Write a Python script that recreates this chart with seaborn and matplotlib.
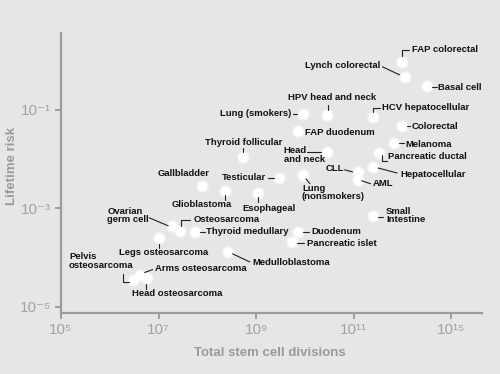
import matplotlib
matplotlib.use("Agg")
import matplotlib.pyplot as plt
import seaborn as sns
import pandas as pd
from matplotlib.transforms import IdentityTransform

# Data (log-log scatter of cancer types)
tissues = ["FAP colorectal", "Lynch colorectal", "Basal cell", "HCV hepatocellular",
           "HPV head and neck", "Colorectal", "Melanoma", "Pancreatic ductal",
           "Hepatocellular", "CLL", "AML", "Head and neck", "FAP duodenum",
           "Lung (smokers)", "Lung (nonsmokers)", "Thyroid follicular", "Testicular",
           "Gallbladder", "Glioblastoma", "Esophageal", "Ovarian germ cell",
           "Osteosarcoma", "Thyroid medullary", "Legs osteosarcoma", "Medulloblastoma",
           "Pelvis osteosarcoma", "Arms osteosarcoma", "Head osteosarcoma",
           "Small intestine", "Duodenum", "Pancreatic islet"]
divisions = [1.0e12, 1.1e12, 3.2e12, 2.5e11,
             2.8e10, 1.0e12, 6.8e11, 3.3e11,
             2.5e11, 1.2e11, 1.2e11, 2.8e10, 7.1e9,
             9.1e9, 9.1e9, 5.4e8, 3.0e9,
             7.6e7, 2.3e8, 1.1e9, 1.9e7,
             2.8e7, 5.5e7, 1.0e7, 2.6e8,
             3.0e6, 4.1e6, 5.9e6,
             2.5e11, 7.1e9, 5.4e9]
risk = [0.95, 0.47, 0.30, 0.072,
        0.080, 0.047, 0.021, 0.0135,
        0.0069, 0.0055, 0.0038, 0.014, 0.037,
        0.083, 0.0048, 0.011, 0.0042,
        0.0029, 0.0022, 0.0020, 0.00044,
        0.00035, 0.00033, 0.00025, 0.00013,
        0.000035, 0.000045, 0.000039,
        0.00071, 0.00033, 0.00021]
label_text = {"Head and neck": "Head\nand neck", "Lung (nonsmokers)": "Lung\n(nonsmokers)",
              "Ovarian germ cell": "Ovarian\ngerm cell", "Pelvis osteosarcoma": "Pelvis\nosteosarcoma",
              "Small intestine": "Small\nIntestine"}

xticks = [1e5, 1e7, 1e9, 1e11, 1e13]
xticklabels = ["10⁵", "10⁷", "10⁹", "10¹¹", "10¹⁵"]
yticks = [1e-5, 1e-3, 1e-1]
yticklabels = ["10⁻⁵", "10⁻³", "10⁻¹"]

# label placement: (dx, dy, ha, va) in pixels, y downwards; leader path offsets
layout = {
    "FAP colorectal": (10, -12, "left", "center", [(0, -6), (0, -12), (7, -12)]),
    "Lynch colorectal": (-24, -11, "right", "center", [(-22, -10), (-5, -2)]),
    "Basal cell": (11, 1, "left", "center", [(5, 1), (10, 1)]),
    "HCV hepatocellular": (9, -9, "left", "center", [(0, -5), (0, -9), (7, -9)]),
    "HPV head and neck": (5, -17, "center", "center", [(1, -10), (1, -5)]),
    "Colorectal": (9, 0, "left", "center", [(5, 0), (8, 0)]),
    "Melanoma": (11, 1, "left", "center", [(5, 0), (10, 0)]),
    "Pancreatic ductal": (9, 4, "left", "center", [(3, 2), (3, 8), (8, 8)]),
    "Hepatocellular": (27, 7, "left", "center", [(5, 1), (24, 6)]),
    "CLL": (-14, -3, "right", "center", [(-13, -2), (-5, 0)]),
    "AML": (15, 4, "left", "center", [(4, 1), (13, 4)]),
    "Head and neck": (-43, -6, "left", "top", [(-20, 0), (-6, 0)]),
    "FAP duodenum": (7, 1, "left", "center", []),
    "Lung (smokers)": (-12, 0, "right", "center", [(-10, 0), (-6, 0)]),
    "Lung (nonsmokers)": (-1, 9, "left", "top", [(3, 4), (7, 9)]),
    "Thyroid follicular": (1, -15, "center", "center", [(0, -9), (0, -5)]),
    "Testicular": (-13, 0, "right", "center", [(-11, 0), (-5, 0)]),
    "Gallbladder": (-18, -12, "center", "center", []),
    "Glioblastoma": (-23, 13, "center", "center", [(0, 4), (0, 9)]),
    "Esophageal": (-16, 15, "left", "center", [(0, 4), (0, 9)]),
    "Ovarian germ cell": (-65, -19, "left", "top", [(-23, -8), (-4, 0)]),
    "Osteosarcoma": (13, -11, "left", "center", [(1, -5), (1, -11), (10, -11)]),
    "Thyroid medullary": (11, 0, "left", "center", [(5, 0), (10, 0)]),
    "Legs osteosarcoma": (5, 15, "center", "center", [(0, 6), (0, 10)]),
    "Medulloblastoma": (25, 11, "left", "center", [(5, 2), (22, 10)]),
    "Pelvis osteosarcoma": (-64, -28, "left", "top", [(-10, -6), (-10, 2), (-4, 2)]),
    "Arms osteosarcoma": (15, -6, "left", "center", [(5, -2), (13, -5)]),
    "Head osteosarcoma": (-15, 16, "left", "center", [(-1, 6), (-1, 11)]),
    "Small intestine": (13, -9, "left", "top", [(5, 1), (10, 1)]),
    "Duodenum": (14, 0, "left", "center", [(5, 0), (11, 0)]),
    "Pancreatic islet": (15, 2, "left", "center", [(5, 1), (12, 1)]),
}

df = pd.DataFrame({"tissue": tissues, "divisions": divisions, "risk": risk})

sns.set_theme(style="ticks")
plt.rcParams["font.family"] = ["Liberation Sans Narrow", "Liberation Sans", "DejaVu Sans"]

bg = "#e6e6e6"
grey = "#9c9c9c"
fig, ax = plt.subplots(figsize=(5, 3.74), dpi=100)
fig.patch.set_facecolor(bg)
ax.set_facecolor(bg)
fig.subplots_adjust(left=0.122, right=0.964, bottom=0.163, top=0.912)

ax.set_xscale("log")
ax.set_yscale("log")
sns.scatterplot(data=df, x="divisions", y="risk", color="white", s=85, alpha=0.45,
                linewidth=0, ax=ax, zorder=2)
sns.scatterplot(data=df, x="divisions", y="risk", color="white", s=50,
                linewidth=0, ax=ax, zorder=3)
ax.set_xlim(1e5, 10 ** 13.63)
ax.set_ylim(10 ** -5.13, 10 ** 0.565)

ax.set_xticks(xticks)
ax.set_xticklabels(xticklabels)
ax.set_yticks(yticks)
ax.set_yticklabels(yticklabels)
ax.minorticks_off()
for s in ["top", "right"]:
    ax.spines[s].set_visible(False)
for s in ["left", "bottom"]:
    ax.spines[s].set_color(grey)
    ax.spines[s].set_linewidth(1.6)
ax.tick_params(colors=grey, labelcolor="#a3a3a3", labelsize=11, length=4, width=1.4, pad=3)

ax.set_xlabel("Total stem cell divisions", color="#9a9a9a", fontsize=9.5, fontweight="bold")
ax.set_ylabel("Lifetime risk", color="#9a9a9a", fontsize=9.5, fontweight="bold")
ax.xaxis.set_label_coords(0.496, -0.123)
ax.yaxis.set_label_coords(-0.103, 0.525)

fig.canvas.draw()
for name, xv, yv in zip(tissues, divisions, risk):
    dx, dy, ha, va, path = layout[name]
    ax.annotate(label_text.get(name, name), xy=(xv, yv), xytext=(dx, -dy),
                textcoords="offset pixels", ha=ha, va=va, fontsize=6.8,
                fontweight="bold", color="#111111", linespacing=0.95, zorder=4)
    if path:
        px, py = ax.transData.transform((xv, yv))
        xs = [px + ox for ox, oy in path]
        ys = [py - oy for ox, oy in path]
        ax.plot(xs, ys, color="#222222", lw=0.8, transform=IdentityTransform(),
                clip_on=False, zorder=4)

fig.savefig("out.png", dpi=100, facecolor=bg)
